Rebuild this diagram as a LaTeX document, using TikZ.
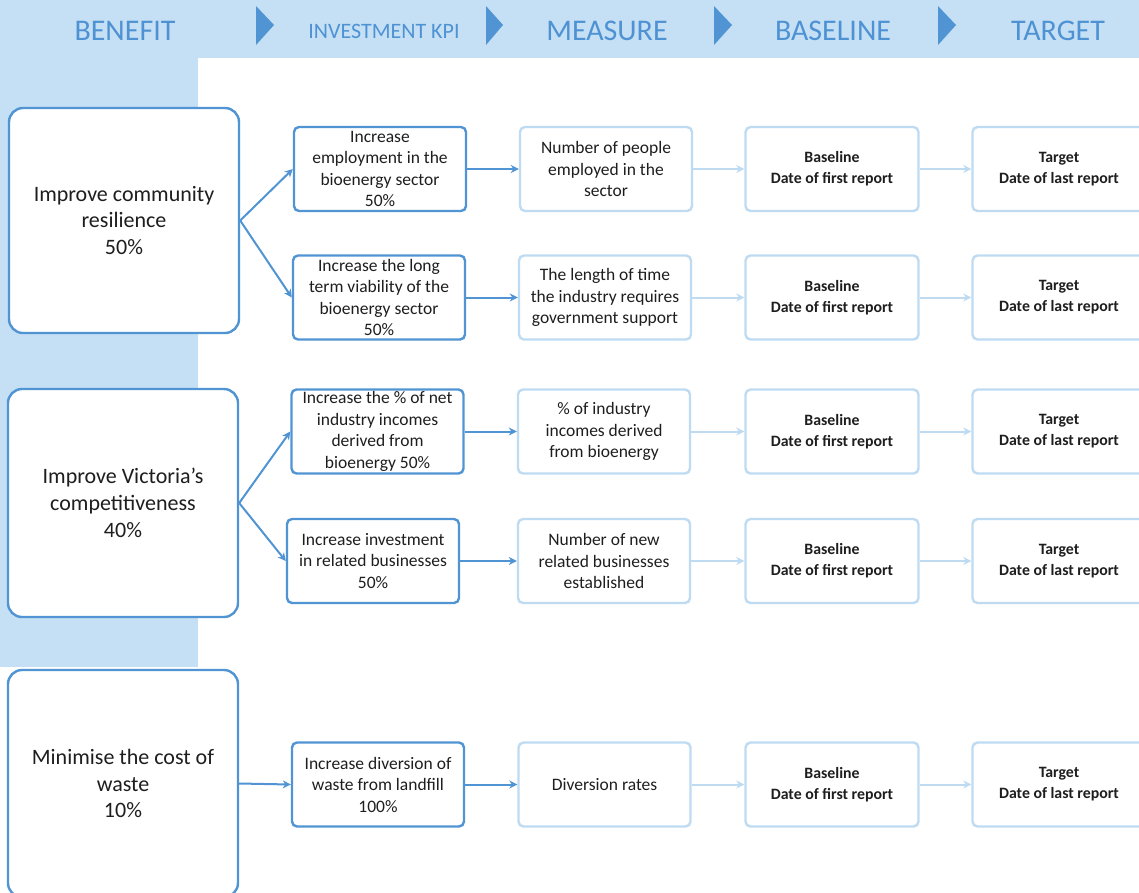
\documentclass[tikz,border=0pt]{standalone}
\usepackage{fontspec}
\setmainfont{Carlito}
\usetikzlibrary{arrows.meta}
\definecolor{hdrbg}{RGB}{197,224,244}
\definecolor{hdrtext}{RGB}{78,146,212}
\definecolor{boxblue}{RGB}{80,148,212}
\definecolor{paleblue}{RGB}{190,219,242}
\definecolor{boxtext}{RGB}{30,30,30}
\newcommand{\tikzReportNodes}[2]{
  \node[report] (base#1) at (832,#2) {Baseline\\Date of first report};
  \node[report] (tgt#1) at (1059,#2) {Target\\Date of last report};
  \draw[palearrow] (m#1) -- (base#1);
  \draw[palearrow] (base#1) -- (tgt#1);
}

\begin{document}
\begin{tikzpicture}[x=1pt,y=-1pt,>={Stealth[length=8pt,width=8pt,inset=2.5pt]},
  benefit/.style={draw=boxblue,line width=2.4pt,rounded corners=14pt,fill=white,inner sep=0pt,
    minimum width=230pt,align=center,text=boxtext,font=\fontsize{22}{26.7}\selectfont},
  kpi/.style={draw=boxblue,line width=2.4pt,rounded corners=5pt,fill=white,inner sep=0pt,
    minimum width=172pt,minimum height=84pt,align=center,text=boxtext,font=\fontsize{17.5}{21.5}\selectfont},
  measure/.style={kpi,draw=paleblue},
  report/.style={measure,minimum width=173pt,font=\bfseries\fontsize{15.8}{21}\selectfont},
  kpiarrow/.style={->,draw=boxblue,line width=2pt},
  palearrow/.style={->,draw=paleblue,line width=2pt},
  heading/.style={anchor=base,text=hdrtext,font=\fontsize{30}{30}\selectfont}]

  \path[use as bounding box] (0,0) rectangle (1139,892);
  \clip (0,0) rectangle (1139,892);

  % header band and left column
  \fill[hdrbg] (0,0) rectangle (1139,58);
  \fill[hdrbg] (0,58) rectangle (198,667);

  \node[heading] (hbenefit) at (125,40) {BENEFIT};
  \node[heading,font=\fontsize{22}{22}\selectfont] (hkpi) at (384,38) {INVESTMENT KPI};
  \node[heading] (hmeasure) at (607,40) {MEASURE};
  \node[heading] (hbaseline) at (833,40) {BASELINE};
  \node[heading] (htarget) at (1058,40) {TARGET};

  \fill[boxblue] (256,6) -- (274,25) -- (256,45) -- cycle;
  \fill[boxblue] (486,6) -- (503,25) -- (486,45) -- cycle;
  \fill[boxblue] (714,6) -- (732,25) -- (714,45) -- cycle;
  \fill[boxblue] (938,6) -- (956,25) -- (938,45) -- cycle;

  % benefits
  \node[benefit,minimum height=225pt] (b1) at (124,220.5) {Improve community\\resilience\\50\%};
  \node[benefit,minimum height=228pt] (b2) at (123,503) {Improve Victoria’s\\competitiveness\\40\%};
  \node[benefit,minimum height=227pt] (b3) at (123,783.5) {Minimise the cost of\\waste\\10\%};

  % investment KPIs
  \node[kpi] (k1) at (380,169) {Increase\\employment in the\\bioenergy sector\\50\%};
  \node[kpi] (k2) at (379,297.5) {Increase the long\\term viability of the\\bioenergy sector\\50\%};
  \node[kpi] (k3) at (377.5,431.5) {Increase the \% of net\\industry incomes\\derived from\\bioenergy 50\%};
  \node[kpi] (k4) at (373,561) {Increase investment\\in related businesses\\50\%};
  \node[kpi] (k5) at (378,784.5) {Increase diversion of\\waste from landfill\\100\%};

  \draw[kpiarrow] (b1.east) -- (k1.west);
  \draw[kpiarrow] (b1.east) -- (k2.west);
  \draw[kpiarrow] (b2.east) -- (k3.west);
  \draw[kpiarrow] (b2.east) -- (k4.west);
  \draw[kpiarrow] (b3.east) -- (k5.west);

  % measures
  \node[measure] (m1) at (606,169) {Number of people\\employed in the\\sector};
  \node[measure] (m2) at (605,297.5) {The length of time\\the industry requires\\government support};
  \node[measure] (m3) at (604,431.5) {\% of industry\\incomes derived\\from bioenergy};
  \node[measure] (m4) at (604,561) {Number of new\\related businesses\\established};
  \node[measure] (m5) at (604.5,784.5) {Diversion rates};

  \draw[kpiarrow] (k1) -- (m1);
  \draw[kpiarrow] (k2) -- (m2);
  \draw[kpiarrow] (k3) -- (m3);
  \draw[kpiarrow] (k4) -- (m4);
  \draw[kpiarrow] (k5) -- (m5);

  % baseline and target
  \tikzReportNodes{1}{169}
  \tikzReportNodes{2}{297.5}
  \tikzReportNodes{3}{431.5}
  \tikzReportNodes{4}{561}
  \tikzReportNodes{5}{784.5}

\end{tikzpicture}
\end{document}
